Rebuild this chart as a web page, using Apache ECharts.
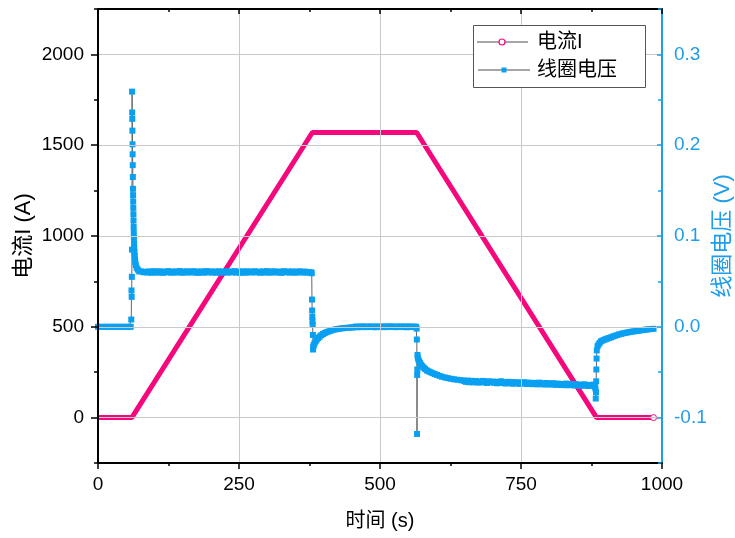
<!DOCTYPE html>
<html><head><meta charset="utf-8">
<script src="https://cdn.jsdelivr.net/npm/echarts@6/dist/echarts.min.js"></script>
<style>html,body{margin:0;padding:0;background:#fff}#c{width:735px;height:538px}</style>
</head><body><div id="c"></div>
<script>
// ---- data ----
const currentT = [0, 60, 380, 565, 884, 985];
const currentI = [0, 0, 1570, 1570, 0, 0];

// coil voltage, read segment by segment
const vStartT = [0,5,10,15,20,25,30,35,40,45,50,55,58];
const vStartV = [0,0,0,0,0,0,0,0,0,0,0,0,0];
const vSpikeT = [59,59.4,59.7,60,60.2,60.4,60.6,60.8,61,61.2,61.4,61.6,61.8,62,62.2,62.4,62.6,62.8,63,63.2,63.4,63.7,64,64.3,64.7,65.1,65.6,66.2,67,68.5,70.5,73,77,81];
const vSpikeV = [0.008,0.040,0.033,0.055,0.085,0.259,0.236,0.229,0.216,0.201,0.190,0.178,0.165,0.152,0.145,0.138,0.131,0.124,0.117,0.110,0.104,0.098,0.092,0.087,0.082,0.078,0.074,0.071,0.068,0.065,0.063,0.061,0.061,0.060];
const vHighT = [
  85,87.5,90,92.5,95,97.5,100,102.5,105,107.5,
  110,112.5,115,117.5,120,122.5,125,127.5,130,132.5,
  135,137.5,140,142.5,145,147.5,150,152.5,155,157.5,
  160,162.5,165,167.5,170,172.5,175,177.5,180,182.5,
  185,187.5,190,192.5,195,197.5,200,202.5,205,207.5,
  210,212.5,215,217.5,220,222.5,225,227.5,230,232.5,
  235,237.5,240,242.5,245,247.5,250,252.5,255,257.5,
  260,262.5,265,267.5,270,272.5,275,277.5,280,282.5,
  285,287.5,290,292.5,295,297.5,300,302.5,305,307.5,
  310,312.5,315,317.5,320,322.5,325,327.5,330,332.5,
  335,337.5,340,342.5,345,347.5,350,352.5,355,357.5,
  360,362.5,365,367.5,370,372.5,375];
const vHighV = [
  0.0605,0.0598,0.0610,0.0602,0.0595,0.0608,0.0612,0.0600,0.0597,0.0606,
  0.0611,0.0601,0.0594,0.0604,0.0609,0.0599,0.0613,0.0603,0.0596,0.0607,
  0.0600,0.0610,0.0598,0.0605,0.0614,0.0601,0.0595,0.0608,0.0603,0.0611,
  0.0597,0.0604,0.0609,0.0600,0.0612,0.0598,0.0606,0.0594,0.0605,0.0610,
  0.0601,0.0596,0.0608,0.0613,0.0599,0.0604,0.0610,0.0597,0.0602,0.0609,
  0.0595,0.0606,0.0611,0.0600,0.0598,0.0607,0.0603,0.0612,0.0596,0.0605,
  0.0609,0.0599,0.0604,0.0613,0.0597,0.0602,0.0608,0.0594,0.0606,0.0610,
  0.0600,0.0596,0.0611,0.0603,0.0607,0.0598,0.0605,0.0612,0.0599,0.0604,
  0.0608,0.0595,0.0602,0.0610,0.0597,0.0606,0.0613,0.0601,0.0596,0.0609,
  0.0603,0.0611,0.0598,0.0605,0.0600,0.0608,0.0594,0.0606,0.0612,0.0599,
  0.0604,0.0609,0.0597,0.0602,0.0610,0.0600,0.0596,0.0607,0.0603,0.0611,
  0.0598,0.0605,0.0601,0.0608,0.0596,0.0603,0.0600];
const vDrop1T = [378,379,379.4,379.7,380,380.3,380.6,381,381.3,381.7,382.5,384,386,388,390.5,393,396,399,402,405,408.5,412,416,420,424,428,432.5,437,441.5,446,450];
const vDrop1V = [0.060,0.059,0.030,0.018,0.011,0.006,0.002,-0.009,-0.025,-0.022,-0.020,-0.018,-0.016,-0.014,-0.0123,-0.0108,-0.0092,-0.0079,-0.0069,-0.006,-0.0052,-0.0044,-0.0036,-0.003,-0.0025,-0.0021,-0.0017,-0.0014,-0.0011,-0.0009,-0.0007];
const vZeroT = [
  452.5,455,457.5,460,462.5,465,467.5,470,472.5,475,
  477.5,480,482.5,485,487.5,490,492.5,495,497.5,500,
  502.5,505,507.5,510,512.5,515,517.5,520,522.5,525,
  527.5,530,532.5,535,537.5,540,542.5,545,547.5,550,
  552.5,555,557.5,560,562.5];
const vZeroV = [
  -0.0006,-0.0002,0.0003,-0.0005,0.0001,-0.0003,0.0004,-0.0001,0.0002,-0.0004,
  0.0003,-0.0002,0.0000,0.0004,-0.0003,0.0001,-0.0005,0.0002,0.0003,-0.0002,
  0.0000,-0.0004,0.0004,0.0001,-0.0003,0.0002,-0.0001,0.0005,-0.0002,0.0001,
  -0.0004,0.0003,0.0000,-0.0002,0.0004,-0.0003,0.0001,0.0002,-0.0005,0.0003,
  -0.0001,0.0002,-0.0003,0.0001,0.0000];
const vDrop2T = [564,565,565.3,565.6,565.9,566.2,566.5,567,568,569.5,571,573,575,577.5,580,583,586,589.5,593,597,601,605.5,610,615,620,625.5,631,637,643,648];
const vDrop2V = [0.000,-0.002,-0.014,-0.118,-0.053,-0.047,-0.031,-0.034,-0.036,-0.038,-0.040,-0.042,-0.0435,-0.045,-0.0465,-0.048,-0.049,-0.050,-0.051,-0.052,-0.053,-0.054,-0.055,-0.0558,-0.0565,-0.0572,-0.0578,-0.0583,-0.0588,-0.0592];
const vLowT = [
  650,652.5,655,657.5,660,662.5,665,667.5,670,672.5,
  675,677.5,680,682.5,685,687.5,690,692.5,695,697.5,
  700,702.5,705,707.5,710,712.5,715,717.5,720,722.5,
  725,727.5,730,732.5,735,737.5,740,742.5,745,747.5,
  750,752.5,755,757.5,760,762.5,765,767.5,770,772.5,
  775,777.5,780,782.5,785,787.5,790,792.5,795,797.5,
  800,802.5,805,807.5,810,812.5,815,817.5,820,822.5,
  825,827.5,830,832.5,835,837.5,840,842.5,845,847.5,
  850,852.5,855,857.5,860,862.5,865,867.5,870,872.5,
  875,877.5,880];
const vLowV = [
  -0.0598,-0.0606,-0.0592,-0.0610,-0.0601,-0.0595,-0.0612,-0.0604,-0.0597,-0.0609,
  -0.0615,-0.0602,-0.0608,-0.0596,-0.0613,-0.0605,-0.0619,-0.0600,-0.0611,-0.0607,
  -0.0603,-0.0617,-0.0609,-0.0622,-0.0605,-0.0614,-0.0600,-0.0618,-0.0610,-0.0625,
  -0.0612,-0.0606,-0.0620,-0.0615,-0.0627,-0.0609,-0.0618,-0.0623,-0.0611,-0.0629,
  -0.0616,-0.0624,-0.0610,-0.0621,-0.0630,-0.0614,-0.0626,-0.0619,-0.0632,-0.0617,
  -0.0628,-0.0620,-0.0634,-0.0615,-0.0625,-0.0631,-0.0622,-0.0636,-0.0619,-0.0630,
  -0.0624,-0.0637,-0.0627,-0.0621,-0.0633,-0.0640,-0.0626,-0.0635,-0.0629,-0.0642,
  -0.0631,-0.0638,-0.0625,-0.0644,-0.0634,-0.0629,-0.0641,-0.0636,-0.0647,-0.0632,
  -0.0643,-0.0637,-0.0650,-0.0639,-0.0645,-0.0633,-0.0648,-0.0641,-0.0652,-0.0640,
  -0.0646,-0.0638,-0.0649];
const vDrop3T = [881,882,882.5,883,883.3,883.6,884,884.4,885.7,887.5,889.5,891.7,894.5,897.6,900.5,903,906,909.4,912.5,916,920,924,927.5,931,935,939,942.5,946,950,954,957.5,961,965,969,973,977,981,985];
const vDrop3V = [-0.066,-0.068,-0.079,-0.072,-0.060,-0.047,-0.035,-0.026,-0.0215,-0.0195,-0.0178,-0.016,-0.0151,-0.0143,-0.0136,-0.013,-0.0123,-0.0117,-0.0108,-0.010,-0.0092,-0.0084,-0.0078,-0.0072,-0.0067,-0.0062,-0.0058,-0.0054,-0.005,-0.0047,-0.0043,-0.004,-0.0036,-0.0033,-0.003,-0.0027,-0.0024,-0.0022];

const voltT = [].concat(vStartT, vSpikeT, vHighT, vDrop1T, vZeroT, vDrop2T, vLowT, vDrop3T);
const voltV = [].concat(vStartV, vSpikeV, vHighV, vDrop1V, vZeroV, vDrop2V, vLowV, vDrop3V);

const xMin = 0, xMax = 1000, xStep = 250;
const leftMin = -250, leftMax = 2250;
const rightMin = -0.15, rightMax = 0.35;
const seriesNames = ['电流I', '线圈电压'];
const xTitle = '时间 (s)', leftTitle = '电流I (A)', rightTitle = '线圈电压 (V)';

// ---- style ----
const PINK = '#F5087C', BLUE = '#0AA0F2', RBLUE = '#1E9DEB', GRID = '#c9c9c9';
const FONT = 'Arial, "Liberation Sans", "Noto Sans CJK SC", sans-serif';

const currentData = currentT.map((t, i) => {
  const last = i === currentT.length - 1;
  return last ? {value: [t, currentI[i]], symbol: 'circle', symbolSize: 6,
    itemStyle: {color: '#fff', borderColor: PINK, borderWidth: 1}} : {value: [t, currentI[i]], symbol: 'none'};
});
const voltData = voltT.map((t, i) => [t, voltV[i]]);

const chart = echarts.init(document.getElementById('c'), null, {renderer: 'canvas'});
const gridBox = {left: 98, right: 73, top: 9, bottom: 75, outerBoundsMode: 'none', containLabel: false};

chart.setOption({
  animation: false,
  backgroundColor: '#fff',
  grid: [Object.assign({}, gridBox), Object.assign({}, gridBox)],
  xAxis: [{
    gridIndex: 0, type: 'value', min: xMin, max: xMax, interval: xStep, position: 'bottom', z: 5,
    name: xTitle, nameLocation: 'middle', nameGap: 48, nameMoveOverlap: false,
    nameTextStyle: {fontSize: 20, color: '#000', fontFamily: FONT},
    axisLine: {show: true, onZero: false, lineStyle: {color: '#000', width: 2}},
    axisTick: {show: true, inside: false, length: 6, lineStyle: {color: '#000', width: 1.5}},
    minorTick: {show: true, splitNumber: 2, length: 3, lineStyle: {color: '#000', width: 1.5}},
    axisLabel: {fontSize: 19, color: '#000', margin: 12, fontFamily: FONT, formatter: v => String(v)},
    splitLine: {show: true, showMinLine: false, showMaxLine: false, lineStyle: {color: GRID, width: 1}}
  }, {
    gridIndex: 0, type: 'value', min: xMin, max: xMax, interval: xStep, position: 'top', z: 5,
    axisLine: {show: true, onZero: false, lineStyle: {color: '#000', width: 2}},
    axisTick: {show: true, inside: true, length: 5, lineStyle: {color: '#000', width: 1.5}},
    minorTick: {show: true, splitNumber: 2, length: 3, lineStyle: {color: '#000', width: 1.5}},
    axisLabel: {show: false}, splitLine: {show: false}
  }, {
    gridIndex: 1, type: 'value', min: xMin, max: xMax, show: false
  }],
  yAxis: [{
    gridIndex: 0, type: 'value', min: leftMin, max: leftMax, splitNumber: 5, position: 'left', z: 5,
    name: leftTitle, nameLocation: 'middle', nameGap: 63, nameRotate: 90, nameMoveOverlap: false,
    nameTextStyle: {fontSize: 22, color: '#000', fontFamily: FONT},
    axisLine: {show: true, onZero: false, lineStyle: {color: '#000', width: 2}},
    axisTick: {show: true, inside: false, length: 7, lineStyle: {color: '#000', width: 1.5}},
    axisLabel: {fontSize: 19, color: '#000', margin: 14, fontFamily: FONT, showMinLabel: false, showMaxLabel: false,
      formatter: v => String(v)},
    splitLine: {show: true, showMinLine: false, showMaxLine: false, lineStyle: {color: GRID, width: 1}}
  }, {
    gridIndex: 0, type: 'value', min: rightMin, max: rightMax, splitNumber: 5, position: 'right', z: 5,
    name: rightTitle, nameLocation: 'middle', nameGap: 50, nameRotate: 90, nameMoveOverlap: false,
    nameTextStyle: {fontSize: 22, color: RBLUE, fontFamily: FONT},
    axisLine: {show: true, onZero: false, lineStyle: {color: RBLUE, width: 2}},
    axisTick: {show: true, inside: true, length: 5, lineStyle: {color: RBLUE, width: 1.5}},
    axisLabel: {fontSize: 19, color: RBLUE, margin: 12, fontFamily: FONT, showMinLabel: false, showMaxLabel: false,
      formatter: v => v.toFixed(1)},
    splitLine: {show: false}
  }, {
    gridIndex: 1, type: 'value', min: leftMin, max: leftMax, interval: 500, position: 'left', z: 5,
    axisLine: {show: false}, axisLabel: {show: false}, splitLine: {show: false},
    axisTick: {show: true, inside: false, length: 4, lineStyle: {color: '#000', width: 1.5}}
  }, {
    gridIndex: 1, type: 'value', min: rightMin, max: rightMax, interval: 0.1, position: 'right', z: 5,
    axisLine: {show: false}, axisLabel: {show: false}, splitLine: {show: false},
    axisTick: {show: true, inside: true, length: 4, lineStyle: {color: RBLUE, width: 1.5}}
  }],
  series: [{
    name: seriesNames[0], type: 'line', xAxisIndex: 0, yAxisIndex: 0,
    data: currentData, showSymbol: true, z: 2,
    lineStyle: {color: PINK, width: 5}, itemStyle: {color: PINK}
  }, {
    name: seriesNames[1], type: 'line', xAxisIndex: 0, yAxisIndex: 1,
    data: voltData, symbol: 'rect', symbolSize: 6, showSymbol: true, showAllSymbol: true, z: 3,
    lineStyle: {color: '#666', width: 1}, itemStyle: {color: BLUE}
  }],
  graphic: [
    {type: 'rect', left: 473, top: 25, shape: {width: 172, height: 62}, z: 100,
     style: {fill: '#fff', stroke: '#555', lineWidth: 1}},
    {type: 'line', z: 101, shape: {x1: 477, y1: 42, x2: 528, y2: 42}, style: {stroke: '#888', lineWidth: 1.5}},
    {type: 'circle', z: 102, shape: {cx: 502, cy: 42, r: 3}, style: {fill: '#fff', stroke: PINK, lineWidth: 1.2}},
    {type: 'text', z: 102, x: 537, y: 42, style: {text: seriesNames[0], fontSize: 20, fill: '#000', fontFamily: FONT, verticalAlign: 'middle'}},
    {type: 'line', z: 101, shape: {x1: 478, y1: 70, x2: 530, y2: 70}, style: {stroke: '#888', lineWidth: 1.5}},
    {type: 'rect', z: 102, shape: {x: 501.5, y: 67.5, width: 5, height: 5}, style: {fill: BLUE}},
    {type: 'text', z: 102, x: 537, y: 70, style: {text: seriesNames[1], fontSize: 20, fill: '#000', fontFamily: FONT, verticalAlign: 'middle'}}
  ]
});
</script>
</body></html>
